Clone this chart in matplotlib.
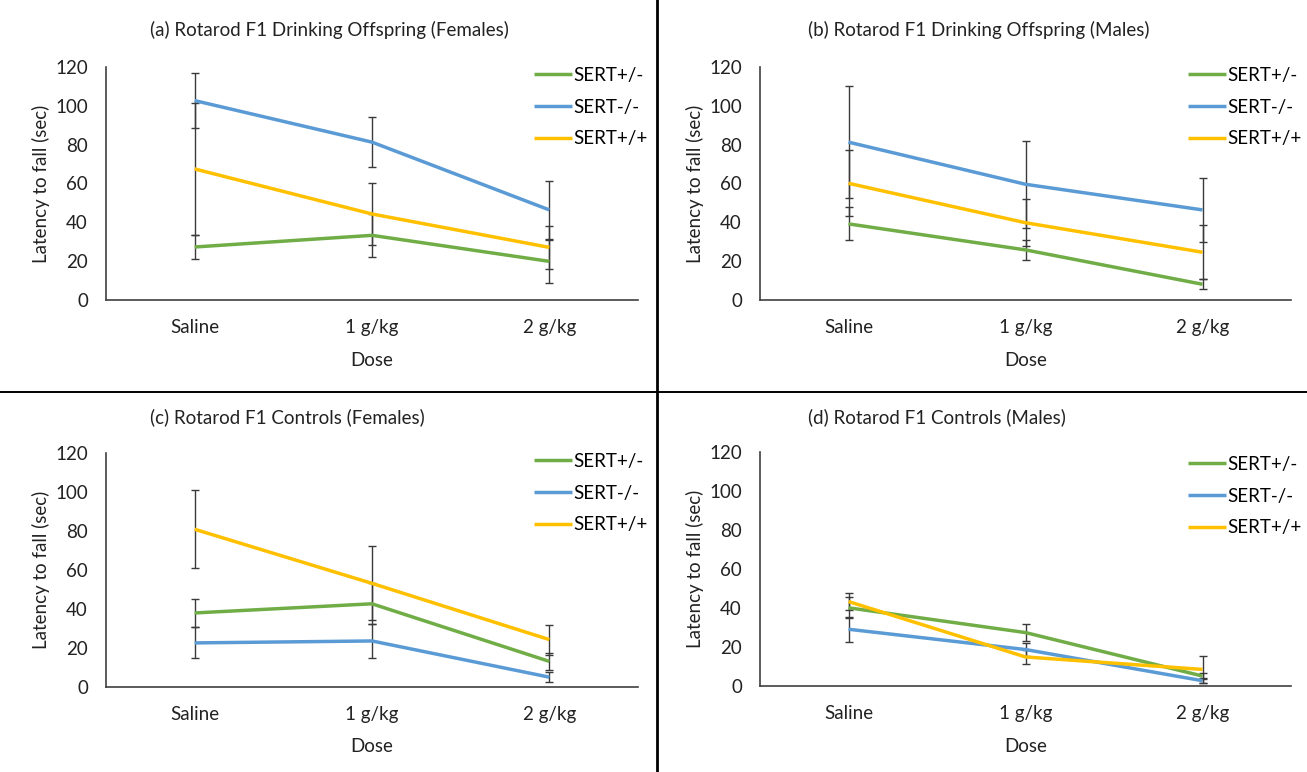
import matplotlib
matplotlib.use("Agg")
import matplotlib.pyplot as plt
from matplotlib.lines import Line2D

plt.rcParams['font.family'] = ['Lato', 'DejaVu Sans']

doses = ['Saline', '1 g/kg', '2 g/kg']
genotypes = ['SERT+/-', 'SERT-/-', 'SERT+/+']
titles = ['(a) Rotarod F1 Drinking Offspring (Females)',
          '(b) Rotarod F1 Drinking Offspring (Males)',
          '(c) Rotarod F1 Controls (Females)',
          '(d) Rotarod F1 Controls (Males)']

# panel (a)
a_het = [27.3, 33.3, 19.9]; a_het_err = [6, 11, 11]
a_ko = [102.7, 81.3, 46.4]; a_ko_err = [14, 13, 15]
a_wt = [67.5, 44.3, 27.1]; a_wt_err = [34, 16, 11]
# panel (b)
b_het = [39.2, 25.8, 8.1]; b_het_err = [8.5, 5, 2.5]
b_ko = [81.3, 59.6, 46.4]; b_ko_err = [29, 22.5, 16.5]
b_wt = [60.1, 39.8, 24.6]; b_wt_err = [17, 12, 14]
# panel (c)
c_het = [37.8, 42.5, 12.9]; c_het_err = [7.3, 10.5, 4.5]
c_ko = [22.4, 23.4, 4.8]; c_ko_err = [8, 8.8, 2.6]
c_wt = [80.8, 53.0, 24.1]; c_wt_err = [20, 19, 7.7]
# panel (d)
d_het = [40.1, 27.4, 5.1]; d_het_err = [5.4, 4.2, 1.7]
d_ko = [29.1, 18.7, 2.7]; d_ko_err = [6.5, 3.5, 1.3]
d_wt = [43.3, 14.9, 8.5]; d_wt_err = [4.5, 3.8, 6.8]

panels = [
    [(a_het, a_het_err), (a_ko, a_ko_err), (a_wt, a_wt_err)],
    [(b_het, b_het_err), (b_ko, b_ko_err), (b_wt, b_wt_err)],
    [(c_het, c_het_err), (c_ko, c_ko_err), (c_wt, c_wt_err)],
    [(d_het, d_het_err), (d_ko, d_ko_err), (d_wt, d_wt_err)],
]
colors = ['#70AD47', '#5B9BD5', '#FFC000']

W, H = 1307, 772
fig = plt.figure(figsize=(W / 100, H / 100), dpi=100)

def fx(px):
    return px / W

def fy(py):
    return 1 - py / H

FS = 13.5
# (left px, right px, top px, bottom px)
boxes = [(106, 638, 67, 300), (760, 1291, 67, 300),
         (106, 638, 453, 686.5), (760, 1291, 452, 686)]
title_pos = [(150, 30), (808, 30), (150, 417), (808, 417)]
legend_pos = [(534, 67), (1188, 67), (534, 453), (1188, 456)]

x = list(range(len(doses)))
for i, (l, r, t, b) in enumerate(boxes):
    ax = fig.add_axes([fx(l), fy(b), fx(r) - fx(l), fy(t) - fy(b)])
    handles = []
    for (vals, errs), col, lab in zip(panels[i], colors, genotypes):
        ax.errorbar(x, vals, yerr=errs, fmt='none', ecolor='#3a3a3a',
                    elinewidth=1.0, capsize=3.2, capthick=1.0, zorder=2)
        h, = ax.plot(x, vals, color=col, lw=2.5, label=lab, zorder=3,
                     solid_capstyle='butt')
        handles.append(h)
    ax.set_xlim(-0.5, 2.5)
    ax.set_ylim(0, 120)
    ax.set_yticks(range(0, 121, 20))
    ax.set_xticks(x)
    ax.set_xticklabels(doses)
    ax.tick_params(axis='y', length=0, pad=13, labelsize=FS, colors='#222222')
    ax.tick_params(axis='x', length=0, pad=14, labelsize=FS, colors='#222222')
    for s in ['top', 'right']:
        ax.spines[s].set_visible(False)
    for s in ['left', 'bottom']:
        ax.spines[s].set_color('#404040')
        ax.spines[s].set_linewidth(1.2)
    ax.set_ylabel('Latency to fall (sec)', fontsize=FS, color='#222222', labelpad=4)
    ax.set_xlabel('Dose', fontsize=FS, color='#222222', labelpad=11)
    tx, ty = title_pos[i]
    fig.text(fx(tx), fy(ty), titles[i], fontsize=FS, ha='left', va='center',
             color='#222222')
    lx, ly = legend_pos[i]
    fig.legend(handles=handles, loc='upper left',
               bbox_to_anchor=(fx(lx), fy(ly)), frameon=False, fontsize=FS,
               handlelength=2.0, handletextpad=0.1, labelspacing=0.78,
               borderpad=0, borderaxespad=0)

fig.add_artist(Line2D([fx(657), fx(657)], [0, 1], color='black', lw=2.0))
fig.add_artist(Line2D([0, 1], [fy(392), fy(392)], color='black', lw=1.4))

fig.savefig('out.png', dpi=100)
